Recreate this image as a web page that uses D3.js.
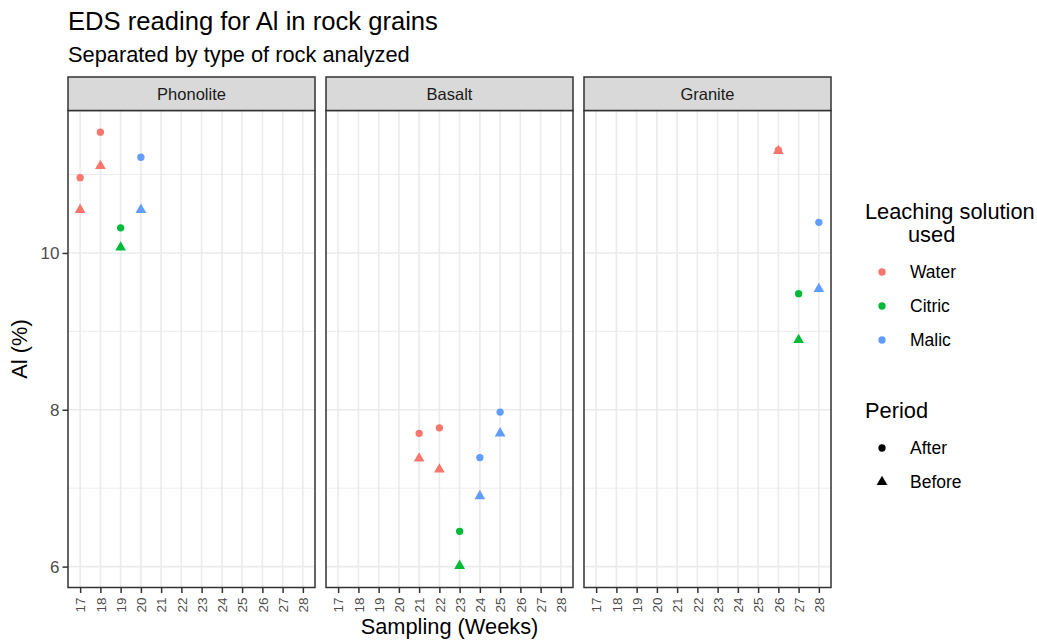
<!DOCTYPE html>
<html>
<head>
<meta charset="utf-8">
<script src="https://cdn.jsdelivr.net/npm/d3@7"></script>
<style>
  html, body { margin: 0; padding: 0; background: #ffffff; }
  svg { display: block; font-family: "Liberation Sans", Arial, sans-serif; }
</style>
</head>
<body>
<svg id="chart" width="1037" height="640"></svg>
<script>
// Rock types (one facet each), leaching solutions and sampling periods
const rocks = ["Phonolite", "Basalt", "Granite"];
const solutions = ["Water", "Citric", "Malic"];
const solutionColors = ["#F8766D", "#00BA38", "#619CFF"];
const periods = ["After", "Before"];
const weekTicks = [17, 18, 19, 20, 21, 22, 23, 24, 25, 26, 27, 28];
const yTicks = [6, 8, 10];
const yMinorTicks = [7, 9, 11];

// EDS measurements: one entry per sample
const sampleRock = [
  "Phonolite", "Phonolite", "Phonolite", "Phonolite", "Phonolite", "Phonolite", "Phonolite", "Phonolite",
  "Basalt", "Basalt", "Basalt", "Basalt", "Basalt", "Basalt", "Basalt", "Basalt", "Basalt", "Basalt",
  "Granite", "Granite", "Granite", "Granite", "Granite", "Granite"
];
const sampleWeek = [
  17, 17, 18, 18, 19, 19, 20, 20,
  21, 21, 22, 22, 23, 23, 24, 24, 25, 25,
  26, 26, 27, 27, 28, 28
];
const sampleSolution = [
  "Water", "Water", "Water", "Water", "Citric", "Citric", "Malic", "Malic",
  "Water", "Water", "Water", "Water", "Citric", "Citric", "Malic", "Malic", "Malic", "Malic",
  "Water", "Water", "Citric", "Citric", "Malic", "Malic"
];
const samplePeriod = [
  "After", "Before", "After", "Before", "After", "Before", "After", "Before",
  "After", "Before", "After", "Before", "After", "Before", "After", "Before", "After", "Before",
  "After", "Before", "After", "Before", "After", "Before"
];
const alPercent = [
  10.96, 10.55, 11.54, 11.11, 10.32, 10.07, 11.22, 10.55,
  7.70, 7.38, 7.77, 7.24, 6.45, 6.01, 7.39, 6.90, 7.97, 7.70,
  11.31, 11.30, 9.48, 8.89, 10.39, 9.54
];

const samples = alPercent.map((v, i) => ({
  rock: sampleRock[i], week: sampleWeek[i], solution: sampleSolution[i],
  period: samplePeriod[i], value: v
}));

// Layout
const panelLeft0 = 68, panelWidth = 247, panelGap = 11;
const panelTop = 110.5, panelBottom = 587.5;
const stripTop = 77;

const svg = d3.select("#chart");

// Titles
svg.append("text").attr("x", 68).attr("y", 30)
  .attr("font-size", 25.6).attr("fill", "#000").text("EDS reading for Al in rock grains");
svg.append("text").attr("x", 68).attr("y", 61.5)
  .attr("font-size", 21.8).attr("fill", "#000").text("Separated by type of rock analyzed");

// Scales: discrete weeks spread over the panel with 0.6-step padding
const x = d3.scaleLinear().domain([16.4, 28.6]).range([0, panelWidth]);
const [yLo, yHi] = d3.extent(alPercent);
const pad = (yHi - yLo) * 0.05;
const y = d3.scaleLinear().domain([yLo - pad, yHi + pad]).range([panelBottom, panelTop]);
const color = d3.scaleOrdinal().domain(solutions).range(solutionColors);
const shape = d3.scaleOrdinal().domain(periods).range([d3.symbolCircle, d3.symbolTriangle]);
const shapeSize = d3.scaleOrdinal().domain(periods).range([42, 50]);

const symbolPath = p => d3.symbol().type(shape(p)).size(shapeSize(p))();

rocks.forEach((rock, k) => {
  const left = panelLeft0 + k * (panelWidth + panelGap);
  const g = svg.append("g").attr("transform", `translate(${left},0)`);

  // Minor horizontal grid
  g.selectAll(".ymin").data(yMinorTicks).join("line")
    .attr("x1", 0).attr("x2", panelWidth)
    .attr("y1", d => y(d)).attr("y2", d => y(d))
    .attr("stroke", "#EBEBEB").attr("stroke-width", 0.9);
  // Major horizontal grid
  g.selectAll(".ymaj").data(yTicks).join("line")
    .attr("x1", 0).attr("x2", panelWidth)
    .attr("y1", d => y(d)).attr("y2", d => y(d))
    .attr("stroke", "#EBEBEB").attr("stroke-width", 1.6);
  // Vertical grid at each week
  g.selectAll(".xmaj").data(weekTicks).join("line")
    .attr("x1", d => x(d)).attr("x2", d => x(d))
    .attr("y1", panelTop).attr("y2", panelBottom)
    .attr("stroke", "#EBEBEB").attr("stroke-width", 1.6);

  // Points: "After" first, "Before" on top
  const pts = samples.filter(d => d.rock === rock);
  g.selectAll(".pt").data(pts).join("path")
    .attr("d", d => symbolPath(d.period))
    .attr("transform", d => `translate(${x(d.week)},${y(d.value)})`)
    .attr("fill", d => color(d.solution));

  // Panel border
  g.append("rect").attr("x", 0).attr("y", panelTop)
    .attr("width", panelWidth).attr("height", panelBottom - panelTop)
    .attr("fill", "none").attr("stroke", "#333333").attr("stroke-width", 1.5);

  // Strip
  g.append("rect").attr("x", 0).attr("y", stripTop)
    .attr("width", panelWidth).attr("height", panelTop - stripTop)
    .attr("fill", "#D9D9D9").attr("stroke", "#333333").attr("stroke-width", 1.5);
  g.append("text").attr("x", panelWidth / 2).attr("y", (stripTop + panelTop) / 2)
    .attr("text-anchor", "middle").attr("dominant-baseline", "central")
    .attr("font-size", 16.5).attr("fill", "#1A1A1A").text(rock);

  // X axis
  const xAxis = d3.axisBottom(x).tickValues(weekTicks).tickSize(5.5).tickPadding(3)
    .tickFormat(d3.format("d"));
  const ax = g.append("g").attr("transform", `translate(0,${panelBottom})`).call(xAxis);
  ax.select(".domain").remove();
  ax.selectAll(".tick line").attr("stroke", "#333333").attr("stroke-width", 1.5);
  ax.selectAll(".tick text")
    .attr("transform", "rotate(-90)")
    .attr("x", -10).attr("y", 0).attr("dy", "0.35em")
    .attr("text-anchor", "end")
    .attr("font-size", 13.5).attr("fill", "#4D4D4D")
    .attr("font-family", "Liberation Sans, Arial, sans-serif");

  // Y axis on the first panel only
  if (k === 0) {
    const yAxis = d3.axisLeft(y).tickValues(yTicks).tickSize(5.5).tickPadding(3)
      .tickFormat(d3.format("d"));
    const ay = g.append("g").call(yAxis);
    ay.select(".domain").remove();
    ay.selectAll(".tick line").attr("stroke", "#333333").attr("stroke-width", 1.5);
    ay.selectAll(".tick text").attr("font-size", 17).attr("fill", "#4D4D4D")
      .attr("font-family", "Liberation Sans, Arial, sans-serif");
  }
});

// Axis titles
svg.append("text").attr("x", (panelLeft0 + panelLeft0 + 3 * panelWidth + 2 * panelGap) / 2).attr("y", 634)
  .attr("text-anchor", "middle").attr("font-size", 21.8).attr("fill", "#000").text("Sampling (Weeks)");
svg.append("text")
  .attr("transform", `translate(27,${(panelTop + panelBottom) / 2}) rotate(-90)`)
  .attr("text-anchor", "middle").attr("font-size", 21.8).attr("fill", "#000").text("Al (%)");

// Legend: leaching solution
const lg = svg.append("g");
const lt = lg.append("text").attr("x", 865).attr("y", 219).attr("font-size", 21.8).attr("fill", "#000");
lt.append("tspan").attr("x", 865).text("Leaching solution");
lt.append("tspan").attr("x", 908).attr("dy", 23).text("used");

const solY = d3.scalePoint().domain(solutions).range([272, 340]);
lg.selectAll(".sk").data(solutions).join("path")
  .attr("d", symbolPath("After"))
  .attr("transform", d => `translate(882,${solY(d)})`)
  .attr("fill", d => color(d));
lg.selectAll(".sl").data(solutions).join("text")
  .attr("x", 910).attr("y", d => solY(d)).attr("dy", "0.35em")
  .attr("font-size", 17.5).attr("fill", "#000").text(d => d);

// Legend: period
lg.append("text").attr("x", 865).attr("y", 418).attr("font-size", 21.8).attr("fill", "#000").text("Period");
const perY = d3.scalePoint().domain(periods).range([448, 482]);
lg.selectAll(".pk").data(periods).join("path")
  .attr("d", d => symbolPath(d))
  .attr("transform", d => `translate(882,${perY(d)})`)
  .attr("fill", "#000");
lg.selectAll(".pl").data(periods).join("text")
  .attr("x", 910).attr("y", d => perY(d)).attr("dy", "0.35em")
  .attr("font-size", 17.5).attr("fill", "#000").text(d => d);
</script>
</body>
</html>
